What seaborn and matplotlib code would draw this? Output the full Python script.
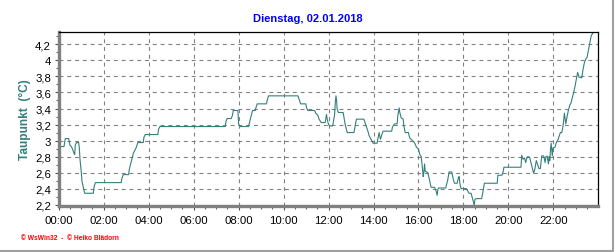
import matplotlib
matplotlib.use("Agg")
import matplotlib.pyplot as plt
import matplotlib.ticker as mticker
import seaborn as sns
import pandas as pd
import numpy as np

# ---- data (hours of day, dew point in °C) ----
hours = [0.00, 0.235, 0.295, 0.443, 0.50, 0.56, 0.62, 0.68, 0.71, 0.74, 0.80, 0.887, 0.917, 0.947,
         1.006, 1.036, 1.095, 1.154, 1.54, 1.57, 1.628, 2.78, 2.81, 2.87, 3.11, 3.14, 3.2, 3.26,
         3.32, 3.38, 3.44, 3.52, 3.76, 3.79, 3.85,
         4.41, 4.44, 4.50, 7.41, 7.44, 7.49, 7.67, 7.73, 7.76, 7.97,
         8.0, 8.06, 8.44, 8.5, 8.56, 8.62, 8.74, 8.77, 8.83, 9.24, 9.27, 9.33, 10.64, 10.70, 10.76,
         10.99, 11.02, 11.08, 11.38, 11.43, 11.52, 11.58, 11.67, 11.85, 11.91,
         11.94, 12.0, 12.06, 12.18, 12.21, 12.27, 12.30, 12.33, 12.36, 12.38, 12.44, 12.65, 12.68,
         12.74, 12.83, 13.13, 13.18, 13.24, 13.57, 13.63, 13.69, 13.75, 13.81, 13.87, 13.98, 14.16,
         14.19, 14.25, 14.28, 14.31, 14.37, 14.43, 14.81, 14.84, 14.93, 15.05, 15.08, 15.14, 15.17,
         15.23, 15.32, 15.35, 15.41, 15.55, 15.61, 15.73, 15.82, 15.91,
         16.0, 16.06, 16.12, 16.15, 16.18, 16.21, 16.24, 16.27, 16.30, 16.41, 16.47, 16.56, 16.71,
         16.77, 16.83, 16.86, 16.89, 17.21, 17.30, 17.36, 17.48, 17.54, 17.60, 17.72, 17.78, 17.81,
         17.84, 17.89, 18.13, 18.25, 18.34, 18.42, 18.48, 18.51, 18.57, 18.81, 18.87, 18.93, 19.50,
         19.53, 19.71, 19.77, 19.80,
         20.56, 20.59, 20.65, 20.71, 20.77, 20.80, 20.86, 20.94, 21.0, 21.06, 21.12, 21.18, 21.24,
         21.30, 21.36, 21.42, 21.45, 21.48, 21.57, 21.63, 21.66, 21.72, 21.78, 21.81, 21.84, 21.87,
         21.90, 21.95, 21.98, 22.07, 22.13, 22.19, 22.25, 22.31, 22.37, 22.43, 22.49, 22.55, 22.61,
         22.67, 22.73, 22.78, 22.84, 22.90, 22.96, 23.02, 23.08, 23.14, 23.26, 23.32, 23.38, 23.44,
         23.50, 23.56, 23.62, 23.68, 23.77, 23.89]
dewpoint = [2.925, 2.925, 3.025, 3.025, 2.942, 2.925, 2.89, 2.84, 2.825, 2.95, 2.975, 2.975, 2.908, 2.767,
            2.6, 2.49, 2.417, 2.342, 2.342, 2.417, 2.475, 2.475, 2.525, 2.575, 2.575, 2.642, 2.708, 2.775,
            2.842, 2.875, 2.908, 2.975, 2.975, 3.042, 3.075,
            3.075, 3.14, 3.175, 3.175, 3.24, 3.275, 3.275, 3.317, 3.375, 3.375,
            3.21, 3.175, 3.175, 3.24, 3.31, 3.375, 3.375, 3.41, 3.458, 3.458, 3.5, 3.558, 3.558, 3.508, 3.458,
            3.458, 3.41, 3.375, 3.375, 3.342, 3.317, 3.267, 3.225, 3.225, 3.325,
            3.267, 3.2, 3.183, 3.183, 3.225, 3.325, 3.475, 3.558, 3.5, 3.4, 3.35, 3.35, 3.3,
            3.2, 3.1, 3.1, 3.175, 3.267, 3.267, 3.217, 3.167, 3.117, 3.058, 3.025, 2.967, 2.967,
            3.017, 3.1, 3.05, 3.017, 3.075, 3.117, 3.117, 3.167, 3.208, 3.208, 3.308, 3.408, 3.35,
            3.283, 3.267, 3.183, 3.1, 3.1, 3.033, 3.0, 2.975, 2.917,
            2.892, 2.825, 2.8, 2.725, 2.642, 2.55, 2.6, 2.708, 2.617, 2.6, 2.533, 2.417, 2.417,
            2.383, 2.317, 2.383, 2.408, 2.408, 2.508, 2.608, 2.608, 2.525, 2.467, 2.467, 2.542, 2.55,
            2.467, 2.4, 2.4, 2.342, 2.342, 2.258, 2.192, 2.267, 2.275, 2.275, 2.367, 2.467, 2.467,
            2.567, 2.567, 2.617, 2.667,
            2.667, 2.817, 2.767, 2.783, 2.725, 2.767, 2.8, 2.792, 2.725, 2.658, 2.592, 2.65, 2.75,
            2.7, 2.65, 2.65, 2.725, 2.808, 2.808, 2.725, 2.792, 2.808, 2.708, 2.8, 2.75, 2.892,
            2.967, 2.808, 2.908, 2.917, 2.975, 3.0, 3.05, 3.1, 3.1, 3.183, 3.342, 3.208, 3.3,
            3.383, 3.442, 3.467, 3.533, 3.6, 3.675, 3.767, 3.85, 3.792, 3.783, 3.892, 3.975, 4.017,
            4.042, 4.133, 4.225, 4.308, 4.35, 4.375]

x_ticks = [0, 2, 4, 6, 8, 10, 12, 14, 16, 18, 20, 22]
x_tick_labels = ["00:00", "02:00", "04:00", "06:00", "08:00", "10:00",
                 "12:00", "14:00", "16:00", "18:00", "20:00", "22:00"]
y_ticks = [2.2, 2.4, 2.6, 2.8, 3.0, 3.2, 3.4, 3.6, 3.8, 4.0, 4.2]
y_tick_labels = ["2,2", "2,4", "2,6", "2,8", "3", "3,2", "3,4", "3,6", "3,8", "4", "4,2"]

title = "Dienstag, 02.01.2018"
ylabel = "Taupunkt  (°C)"
footer = "© WsWin32  -  © Heiko Blädorn"

# ---- style ----
sns.set_theme(style="white")
plt.rcParams["font.family"] = ["Liberation Sans", "DejaVu Sans"]

W, H = 616, 253
fig = plt.figure(figsize=(W / 100, H / 100), dpi=100, facecolor="white")
L, R, T, B = 58.7, 597.7, 33, 207
ax = fig.add_axes([L / W, 1 - B / H, (R - L) / W, (B - T) / H])
ax.set_facecolor("white")

df = pd.DataFrame({"hour": hours, "dew": dewpoint})
line_color = "#33807a"
sns.lineplot(data=df, x="hour", y="dew", ax=ax, color=line_color, linewidth=0.8,
             estimator=None, sort=False)

ax.set_xlim(0, 23.97)
ax.set_ylim(2.183, 4.355)

ax.set_xticks(x_ticks)
ax.set_xticklabels(x_tick_labels)
ax.set_yticks(y_ticks)
ax.set_yticklabels(y_tick_labels)
ax.xaxis.set_minor_locator(mticker.MultipleLocator(0.5))
ax.yaxis.set_minor_locator(mticker.MultipleLocator(0.1))

ax.grid(True, which="major", color="#808080", linestyle=(0, (3.5, 3.5)), linewidth=0.8)
ax.set_axisbelow(True)

for side in ("left", "bottom"):
    ax.spines[side].set_color("#808080")
    ax.spines[side].set_linewidth(2.4)
for side in ("top", "right"):
    ax.spines[side].set_color("black")
    ax.spines[side].set_linewidth(0.9)

ax.tick_params(axis="both", which="major", direction="out", length=3, width=0.8,
               color="#505050", labelsize=8.2, labelcolor="black")
ax.tick_params(axis="both", which="minor", direction="out", length=2.5, width=0.8,
               color="#606060")
ax.tick_params(axis="x", which="major", pad=3.5)
ax.tick_params(axis="y", which="major", pad=2.5)
ax.tick_params(left=True, bottom=True, which="both")

ax.set_xlabel("")
ax.set_ylabel(ylabel, color="#33807a", fontsize=8.6, fontweight="bold")
ax.yaxis.set_label_coords(-0.051, 0.5)

fig.text(0.5, 1 - 19 / H, title, color="#0000ff", fontsize=8, fontweight="bold",
         ha="center", va="center")
fig.text(21 / W, 1 - 239 / H, footer, color="#ff0000", fontsize=4.8, fontweight="bold",
         ha="left", va="center")

# window frame lines (right and bottom)
fig.add_artist(plt.Line2D([613 / W, 613 / W], [1 - 251.5 / H, 1.0], color="#a0a0a0",
                          linewidth=1.5, transform=fig.transFigure))
fig.add_artist(plt.Line2D([0, 613 / W], [1 - 251.5 / H, 1 - 251.5 / H], color="#a0a0a0",
                          linewidth=1.5, transform=fig.transFigure))

fig.savefig("out.png", dpi=100, facecolor="white")
